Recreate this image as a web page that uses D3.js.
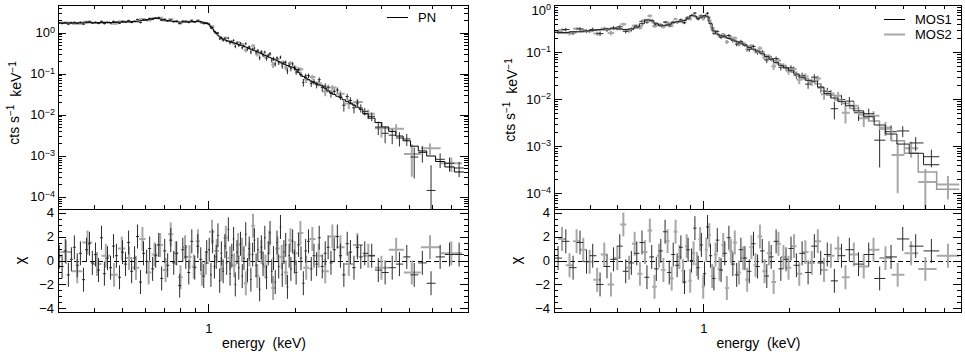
<!DOCTYPE html>
<html lang="en">
<head>
  <meta charset="UTF-8">
  <title>PN and MOS spectra with residuals</title>
  <script src="https://d3js.org/d3.v7.min.js"></script>
  <style>
    body { margin: 0; background: #fff; }
    svg { font-family: "Liberation Sans", Arial, Helvetica, sans-serif; }
    .tick text { font-size: 13px; fill: #000; }
    .tick line { stroke: #000; shape-rendering: crispEdges; }
    .box { shape-rendering: crispEdges; }
    .label { font-size: 14px; fill: #000; white-space: pre; }
  </style>
</head>
<body>
  <svg width="965" height="352"></svg>

  <script>
    // ---- PN (black) : bin centre (keV), model (cts/s/keV), chi, relative error
    const pnEnergy = [0.303,0.31,0.318,0.326,0.334,0.342,0.35,0.359,0.368,0.377,
      0.386,0.395,0.405,0.415,0.425,0.435,0.446,0.457,0.468,0.479,
      0.491,0.503,0.515,0.528,0.541,0.554,0.567,0.581,0.595,0.61,
      0.625,0.64,0.656,0.672,0.688,0.705,0.722,0.74,0.758,0.776,
      0.795,0.815,0.835,0.855,0.876,0.897,0.919,0.941,0.964,0.987,
      1.007,1.021,1.035,1.05,1.065,1.08,1.095,1.11,1.126,1.142,
      1.158,1.174,1.19,1.207,1.224,1.241,1.258,1.276,1.294,1.312,
      1.33,1.349,1.368,1.387,1.406,1.426,1.446,1.466,1.487,1.508,
      1.529,1.55,1.572,1.594,1.616,1.639,1.662,1.685,1.709,1.733,
      1.757,1.782,1.807,1.832,1.858,1.884,1.91,1.937,1.964,1.992,
      2.02,2.06,2.1,2.14,2.18,2.23,2.28,2.33,2.38,2.43,
      2.49,2.55,2.61,2.67,2.74,2.81,2.88,2.96,3.04,3.12,3.21,3.3,3.39,
      3.5,3.7,3.9,4.12,4.36,4.62,4.9,5.2,5.55,5.95,6.4,6.9,7.45];
    const pnModel = [1.70,1.70,1.69,1.70,1.71,1.70,1.71,1.72,1.71,1.72,
      1.73,1.72,1.73,1.74,1.74,1.75,1.74,1.75,1.76,1.77,
      1.78,1.79,1.80,1.82,1.84,1.86,1.89,1.93,1.98,2.04,
      2.10,2.16,2.20,2.17,2.10,2.02,1.95,1.89,1.85,1.82,
      1.80,1.80,1.81,1.82,1.84,1.85,1.84,1.82,1.77,1.65,
      1.55,1.38,1.22,1.08,0.96,0.86,0.79,0.73,0.69,0.66,
      0.635,0.615,0.60,0.58,0.56,0.545,0.525,0.51,0.49,0.475,
      0.46,0.445,0.43,0.41,0.39,0.375,0.36,0.35,0.335,0.32,
      0.305,0.29,0.28,0.27,0.255,0.245,0.235,0.225,0.215,0.205,
      0.196,0.187,0.178,0.17,0.163,0.157,0.151,0.146,0.142,0.138,
      0.125,0.105,0.092,0.085,0.078,0.071,0.065,0.06,0.056,0.053,
      0.05,0.044,0.038,0.034,0.031,0.028,0.026,0.023,0.021,0.019,0.017,0.0152,0.0135,
      0.0105,0.0082,0.0064,0.0050,0.0039,0.0030,0.0023,0.0017,0.0013,0.00098,0.00072,0.00053,0.0004];
    const pnChi = [0.3,-0.5,0.8,-1.2,0.1,1.1,-0.4,0.6,-1.6,0.9,
      1.4,-0.2,0.5,-0.8,1.9,-1.1,0.2,-0.6,1.2,0.4,
      -1.4,0.7,-0.3,1.5,-0.9,0.2,2.0,-1.8,0.6,-0.1,
      1.0,-0.7,0.4,1.3,-1.5,0.8,-0.4,1.7,-0.2,0.6,
      -2.1,0.9,0.3,-1.0,1.6,-0.6,1.2,0.1,-1.3,0.7,
      0.9,-1.2,1.6,-0.5,0.3,2.1,-1.7,0.6,-0.9,1.2,
      -0.2,2.6,-1.1,0.4,1.8,-2.0,0.7,-0.6,1.4,-1.3,
      0.2,2.2,-0.8,1.0,-1.6,0.5,1.7,-0.4,0.9,-2.4,
      1.1,-0.3,1.9,-1.4,0.6,2.3,-0.9,0.2,-1.8,1.5,
      -0.5,2.8,-1.2,0.7,1.3,-2.2,0.4,-0.7,1.6,-0.1,
      -1.0,1.3,0.2,-1.9,0.8,1.6,-0.7,0.4,-0.3,1.9,
      -0.5,0.6,1.1,-0.2,0.9,2.0,0.4,-1.2,1.4,0.7,-0.6,1.1,0.3,
      0.6,0.4,-0.8,-1.0,-0.6,-0.3,0.3,-1.2,-0.2,-1.9,0.3,0.5,0.5];
    const pnErr = [0.04,0.05,0.04,0.05,0.05,0.04,0.05,0.05,0.04,0.05,
      0.05,0.04,0.05,0.05,0.04,0.05,0.05,0.04,0.05,0.04,
      0.04,0.05,0.04,0.05,0.05,0.04,0.05,0.05,0.04,0.05,
      0.05,0.04,0.05,0.05,0.04,0.05,0.05,0.04,0.05,0.05,
      0.04,0.05,0.05,0.04,0.05,0.05,0.04,0.05,0.05,0.05,
      0.05,0.05,0.05,0.06,0.06,0.06,0.06,0.06,0.07,0.07,
      0.07,0.07,0.07,0.07,0.08,0.08,0.08,0.08,0.08,0.08,
      0.08,0.09,0.09,0.09,0.09,0.09,0.09,0.1,0.1,0.1,
      0.1,0.1,0.1,0.1,0.11,0.11,0.11,0.11,0.11,0.11,
      0.12,0.12,0.12,0.12,0.12,0.12,0.13,0.13,0.13,0.13,
      0.13,0.14,0.14,0.15,0.15,0.16,0.16,0.17,0.17,0.18,
      0.18,0.19,0.19,0.2,0.2,0.21,0.21,0.22,0.22,0.23,0.23,0.24,0.24,
      0.24,0.26,0.28,0.3,0.32,0.34,0.36,0.38,0.4,0.45,0.44,0.46,0.5];

    // ---- PN (grey points)
    const pnGreyEnergy = [0.32,0.35,0.38,0.41,0.44,0.47,0.5,0.53,0.56,0.59,0.62,0.65,0.68,0.71,0.74,0.77,0.8,0.83,0.86,0.89,0.92,0.95,0.98,
      1.03,1.07,1.11,1.15,1.19,1.23,1.27,1.31,1.35,1.39,1.43,1.48,1.53,1.58,1.63,1.68,1.74,1.8,1.86,1.93,2.0,
      2.09,2.19,2.3,2.42,2.55,2.7,2.88,3.08,3.3,3.6,4.0,4.5,5.1,5.9,7.0];
    const pnGreyModel = [1.70,1.71,1.71,1.73,1.74,1.75,1.78,1.82,1.88,1.97,2.07,2.19,2.14,2.01,1.90,1.84,1.80,1.81,1.83,1.85,1.83,1.80,1.70,
      1.25,0.92,0.73,0.65,0.60,0.555,0.515,0.477,0.445,0.405,0.372,0.34,0.303,0.276,0.25,0.227,0.202,0.18,0.161,0.147,0.13,
      0.094,0.079,0.063,0.054,0.044,0.032,0.026,0.02,0.0152,0.0094,0.0058,0.0034,0.0019,0.001,0.0005];
    const pnGreyChi = [0.7,-0.9,1.5,-0.3,0.4,-1.2,1.0,0.2,-0.6,1.8,-1.0,0.5,1.3,-0.8,2.2,0.6,-1.4,1.1,0.3,-0.5,1.6,-1.1,-0.2,
      2.4,0.8,-0.7,1.9,0.2,-0.4,1.3,0.9,-1.9,0.5,2.9,-1.3,0.7,-0.5,1.5,-2.3,1.0,0.3,-1.0,1.7,0.6,
      2.3,-0.6,1.8,0.4,-0.9,2.0,1.1,-0.3,1.3,0.4,-0.6,0.9,-1.0,1.1,0.6];
    const pnGreyErr = [0.05,0.05,0.05,0.05,0.05,0.05,0.05,0.05,0.05,0.05,0.05,0.05,0.05,0.05,0.05,0.05,0.05,0.05,0.05,0.05,0.05,0.05,0.05,
      0.06,0.07,0.07,0.08,0.08,0.08,0.09,0.09,0.09,0.1,0.1,0.1,0.11,0.11,0.11,0.12,0.12,0.12,0.13,0.13,0.14,
      0.15,0.16,0.17,0.18,0.19,0.21,0.22,0.24,0.26,0.3,0.33,0.37,0.42,0.46,0.5];

    // ---- MOS1 (black)
    const mos1Energy = [0.31,0.33,0.35,0.37,0.39,0.41,0.435,0.46,0.485,0.51,
      0.535,0.56,0.585,0.61,0.635,0.66,0.685,0.71,0.735,0.76,
      0.785,0.81,0.835,0.86,0.885,0.91,0.935,0.96,0.985,1.01,
      1.035,1.06,1.09,1.12,1.155,1.19,1.23,1.27,1.31,1.355,
      1.4,1.45,1.5,1.55,1.61,1.67,1.73,1.8,1.87,1.95,
      2.03,2.12,2.22,2.33,2.45,2.58,2.72,2.88,3.05,3.25,
      3.5,3.8,4.15,4.55,5.0,5.55,6.3];
    const mos1Model = [0.26,0.26,0.27,0.27,0.28,0.29,0.30,0.31,0.32,0.31,
      0.30,0.31,0.34,0.40,0.48,0.46,0.40,0.36,0.37,0.39,
      0.42,0.44,0.45,0.47,0.52,0.60,0.58,0.52,0.55,0.60,
      0.56,0.40,0.28,0.24,0.22,0.21,0.195,0.18,0.165,0.155,
      0.14,0.125,0.115,0.105,0.092,0.08,0.07,0.06,0.052,0.046,
      0.04,0.034,0.029,0.025,0.024,0.018,0.013,0.0105,0.0088,0.0072,
      0.0056,0.0042,0.0028,0.0018,0.0011,0.0007,0.0004];
    const mos1Chi = [0.2,1.6,-0.6,1.5,-0.1,0.4,-2.0,-0.5,0.1,1.2,
      -0.9,-0.2,0.6,1.5,-1.4,0.3,-0.7,0.8,2.4,-1.0,
      0.5,-0.4,1.1,-1.8,0.9,0.0,2.7,-0.6,1.3,-1.1,
      2.8,0.4,-1.5,1.7,-0.8,0.6,1.9,-0.3,-1.2,0.9,
      0.2,-0.9,1.4,-0.5,0.8,-1.3,0.3,1.6,-0.7,0.1,
      1.0,-0.4,0.6,-1.0,1.2,-0.2,0.5,-1.7,0.4,0.9,
      -0.3,0.5,-1.5,0.3,1.8,1.2,0.8];
    const mos1Err = [0.1,0.1,0.09,0.1,0.09,0.1,0.09,0.09,0.1,0.09,0.09,0.09,0.08,0.08,
      0.07,0.07,0.07,0.07,0.07,0.07,0.07,0.07,0.07,0.06,0.06,0.06,0.06,0.06,0.06,0.06,
      0.07,0.07,0.07,0.08,0.08,0.08,0.08,0.09,0.09,0.09,0.1,0.1,0.1,0.11,
      0.11,0.12,0.12,0.13,0.13,0.14,0.15,0.15,0.16,0.17,0.18,
      0.2,0.22,0.24,0.26,0.28,0.3,0.32,
      0.35,0.4,0.5,0.55,0.6];

    // ---- MOS2 (grey)
    const mos2Energy = [0.32,0.34,0.36,0.38,0.4,0.425,0.45,0.475,0.5,0.525,
      0.55,0.575,0.6,0.625,0.65,0.675,0.7,0.725,0.75,0.775,
      0.8,0.825,0.85,0.875,0.9,0.925,0.95,0.975,1.0,1.025,
      1.05,1.075,1.105,1.14,1.175,1.21,1.25,1.29,1.335,1.38,
      1.425,1.475,1.525,1.58,1.64,1.7,1.765,1.835,1.91,1.99,
      2.08,2.17,2.28,2.4,2.52,2.65,2.8,2.97,3.15,3.37,
      3.65,3.95,4.35,4.8,5.35,6.0,7.2];
    const mos2Model = [0.25,0.26,0.27,0.27,0.28,0.29,0.30,0.31,0.31,0.30,
      0.30,0.32,0.36,0.45,0.49,0.42,0.37,0.36,0.38,0.41,
      0.43,0.44,0.46,0.49,0.56,0.60,0.55,0.53,0.58,0.59,
      0.47,0.33,0.26,0.23,0.215,0.20,0.19,0.175,0.16,0.148,
      0.135,0.122,0.11,0.098,0.086,0.075,0.065,0.056,0.049,0.043,
      0.037,0.031,0.027,0.024,0.021,0.015,0.012,0.0095,0.008,0.0063,
      0.0046,0.0034,0.0023,0.0013,0.0007,0.00028,0.00012];
    const mos2Chi = [1.8,-0.4,1.6,0.9,-0.1,-1.6,0.5,-2.0,0.2,3.0,
      -0.6,1.4,-1.1,0.7,2.5,-2.2,0.4,-0.8,1.6,-1.5,
      2.4,0.3,-0.9,1.2,-1.7,0.6,-0.3,1.8,-2.2,0.9,
      2.1,-1.3,0.5,-0.7,1.3,-2.3,0.8,1.5,-1.0,0.2,
      -1.6,1.1,-0.4,2.0,-0.9,0.6,-1.8,1.4,0.3,-0.6,
      1.2,-1.1,0.7,-0.2,1.6,-0.8,0.4,1.0,-1.4,0.5,
      -0.5,0.9,0.2,-1.2,0.6,-0.7,0.4];
    const mos2Err = [0.1,0.1,0.1,0.09,0.1,0.09,0.1,0.09,0.09,0.1,0.09,0.09,0.08,0.08,0.08,
      0.07,0.07,0.07,0.07,0.07,0.07,0.07,0.07,0.07,0.06,0.06,0.06,0.06,0.06,0.06,0.07,
      0.07,0.08,0.08,0.08,0.08,0.09,0.09,0.09,0.1,0.1,0.1,0.11,0.11,0.12,
      0.12,0.13,0.13,0.14,0.15,0.15,0.16,0.17,0.18,0.19,0.2,
      0.22,0.24,0.26,0.28,0.3,0.32,
      0.36,0.42,0.48,0.55,0.65];

    // axis ticks
    const energyMajor = [1];
    const energyMinor = [0.3,0.4,0.5,0.6,0.7,0.8,0.9,2,3,4,5,6,7,8];
    const rateMajor = [1e-4,1e-3,1e-2,1e-1,1];
    const chiMajor = [-4,-2,0,2,4];

    const BLACK = "#2b2b2b", GREY = "#a8a8a8";

    const svg = d3.select("svg");

    // bin edges from neighbouring centres (geometric mid-points)
    function makeBins(E, model, chi, err) {
      const n = E.length;
      return E.map((e, i) => {
        const lo = i > 0 ? Math.sqrt(E[i - 1] * e) : e / Math.sqrt(E[1] / e);
        const hi = i < n - 1 ? Math.sqrt(e * E[i + 1]) : e * Math.sqrt(e / E[n - 2]);
        const m = model[i], c = chi[i] ?? 0, s = m * (err[i] ?? 0.1);
        return { e, lo, hi, m, c, s, v: Math.max(m + c * s, m * 0.05) };
      });
    }

    function supLabel(sel, d) {
      const t = sel.text("");
      t.append("tspan").text("10");
      t.append("tspan").attr("dy", "-0.5em").style("font-size", "9px")
        .text(String(Math.round(Math.log10(d))).replace("-", "\u2212"));
    }

    function drawPanel(p) {
      const x = d3.scaleLog().domain([0.3, 8]).range([p.x0, p.x1]);
      const y = d3.scaleLog().domain(p.yDomain).range([p.mid, p.top]);
      const yr = d3.scaleLinear().domain([-4.3, 4.3]).range([p.bot, p.mid]);
      const g = svg.append("g");

      g.append("clipPath").attr("id", p.id + "-top")
        .append("rect").attr("x", p.x0).attr("y", p.top).attr("width", p.x1 - p.x0).attr("height", p.mid - p.top);
      g.append("clipPath").attr("id", p.id + "-res")
        .append("rect").attr("x", p.x0).attr("y", p.mid).attr("width", p.x1 - p.x0).attr("height", p.bot - p.mid);

      const top = g.append("g").attr("clip-path", `url(#${p.id}-top)`);
      const res = g.append("g").attr("clip-path", `url(#${p.id}-res)`);
      const yMin = p.yDomain[0] * 0.5;

      // dashed zero line of the residuals
      res.append("line").attr("x1", p.x0).attr("x2", p.x1)
        .attr("y1", Math.round(yr(0)) + 0.5).attr("y2", Math.round(yr(0)) + 0.5)
        .attr("stroke", "#000").attr("stroke-dasharray", "5,3");

      p.series.forEach(s => {
        top.append("g").selectAll("path").data(s.bins).join("path")
          .attr("d", d => `M${x(d.lo)},${y(d.v)}H${x(d.hi)}M${x(d.e)},${y(d.v + d.s)}V${y(Math.max(d.v - d.s, yMin))}`)
          .attr("fill", "none").attr("stroke", s.color).attr("stroke-width", s.width);
        res.append("g").selectAll("path").data(s.bins).join("path")
          .attr("d", d => `M${x(d.lo)},${yr(d.c)}H${x(d.hi)}M${x(d.e)},${yr(d.c + 1)}V${yr(d.c - 1)}`)
          .attr("fill", "none").attr("stroke", s.color).attr("stroke-width", s.width);
      });

      // model step lines
      const line = d3.line().x(d => x(d[0])).y(d => y(d[1]));
      p.series.filter(s => s.model).forEach(s => {
        const pts = s.bins.flatMap(d => [[d.lo, d.m], [d.hi, d.m]]);
        top.append("path").attr("d", line(pts))
          .attr("fill", "none").attr("stroke", s.modelColor).attr("stroke-width", s.modelWidth);
      });

      // boxes
      [[p.top, p.mid], [p.mid, p.bot]].forEach(([a, b]) => {
        g.append("rect").attr("class", "box").attr("x", p.x0).attr("y", a).attr("width", p.x1 - p.x0).attr("height", b - a)
          .attr("fill", "none").attr("stroke", "#000");
      });

      const decadeMinor = [];
      for (let k = -5; k <= 1; k++) for (let m = 2; m <= 9; m++) {
        const v = m * Math.pow(10, k);
        if (v > p.yDomain[0] && v < p.yDomain[1]) decadeMinor.push(v);
      }
      const chiMinor = d3.range(-4, 4.01, 0.5).filter(v => !chiMajor.includes(v));

      const ax = (axis, tx, ty) => g.append("g").attr("transform", `translate(${tx},${ty})`).call(axis)
        .call(a => a.select(".domain").remove());

      // top panel
      ax(d3.axisLeft(y).tickValues(rateMajor).tickSize(-8).tickPadding(3), p.x0, 0)
        .selectAll(".tick text").each(function(d) {
          supLabel(d3.select(this), d);
          // keep a label at the very top edge inside the picture
          if (y(d) < 10) d3.select(this).attr("y", 10 - y(d));
        });
      ax(d3.axisLeft(y).tickValues(decadeMinor).tickSize(-4).tickFormat(""), p.x0, 0);
      ax(d3.axisRight(y).tickValues(rateMajor).tickSize(-8).tickFormat(""), p.x1, 0);
      ax(d3.axisRight(y).tickValues(decadeMinor).tickSize(-4).tickFormat(""), p.x1, 0);
      ax(d3.axisTop(x).tickValues(energyMajor).tickSize(-8).tickFormat(""), 0, p.top);
      ax(d3.axisTop(x).tickValues(energyMinor).tickSize(-4).tickFormat(""), 0, p.top);
      ax(d3.axisBottom(x).tickValues(energyMajor).tickSize(-8).tickFormat(""), 0, p.mid);
      ax(d3.axisBottom(x).tickValues(energyMinor).tickSize(-4).tickFormat(""), 0, p.mid);

      // residual panel
      ax(d3.axisLeft(yr).tickValues(chiMajor).tickSize(-8).tickPadding(4)
        .tickFormat(d => String(d).replace("-", "\u2212")), p.x0, 0);
      ax(d3.axisLeft(yr).tickValues(chiMinor).tickSize(-4).tickFormat(""), p.x0, 0);
      ax(d3.axisRight(yr).tickValues(chiMajor).tickSize(-8).tickFormat(""), p.x1, 0);
      ax(d3.axisRight(yr).tickValues(chiMinor).tickSize(-4).tickFormat(""), p.x1, 0);
      ax(d3.axisBottom(x).tickValues(energyMajor).tickSize(-8).tickPadding(12).tickFormat(d3.format("d")), 0, p.bot);
      ax(d3.axisBottom(x).tickValues(energyMinor).tickSize(-4).tickFormat(""), 0, p.bot);

      // titles
      const yt = g.append("text").attr("class", "label").attr("text-anchor", "middle")
        .attr("transform", `translate(${p.x0 - 39},${p.yTitleY}) rotate(-90)`);
      yt.append("tspan").text("cts s");
      yt.append("tspan").attr("dy", "-0.5em").style("font-size", "10px").text("\u22121");
      yt.append("tspan").attr("dy", "0.5em").text("  keV");
      yt.append("tspan").attr("dy", "-0.5em").style("font-size", "10px").text("\u22121");

      g.append("text").attr("class", "label").attr("text-anchor", "middle")
        .attr("transform", `translate(${p.x0 - 38},${yr(0)}) rotate(-90)`)
        .attr("dy", "0.35em").style("font-size", "15px").text("\u03c7");

      g.append("text").attr("class", "label").attr("text-anchor", "middle")
        .attr("x", (p.x0 + p.x1) / 2 + 1).attr("y", 348).text("energy  (keV)");

      // legend
      p.legend.forEach((l, i) => {
        const ly = p.legendY + i * 15 + 0.5;
        g.append("line").attr("x1", p.legendX).attr("x2", p.legendX + 21)
          .attr("y1", ly).attr("y2", ly).attr("stroke", l.color).attr("stroke-width", l.width);
        g.append("text").attr("class", "label").style("font-size", "13px")
          .attr("x", p.legendX + 31).attr("y", ly).attr("dy", "0.36em").text(l.name);
      });
    }

    drawPanel({
      id: "pn", x0: 58, x1: 468, top: 5, mid: 209, bot: 312,
      yDomain: [Math.pow(10, -4.3), Math.pow(10, 0.67)], yTitleY: 103,
      legendX: 387, legendY: 17,
      legend: [{ name: "PN", color: "#000", width: 1 }],
      series: [
        { bins: makeBins(pnGreyEnergy, pnGreyModel, pnGreyChi, pnGreyErr), color: GREY, width: 2 },
        { bins: makeBins(pnEnergy, pnModel, pnChi, pnErr), color: BLACK, width: 1,
          model: true, modelColor: "#000", modelWidth: 1 }
      ]
    });

    drawPanel({
      id: "mos", x0: 554, x1: 961, top: 5, mid: 209, bot: 312,
      yDomain: [Math.pow(10, -4.34), 1], yTitleY: 100,
      legendX: 884, legendY: 19,
      legend: [{ name: "MOS1", color: "#000", width: 1 }, { name: "MOS2", color: GREY, width: 2 }],
      series: [
        { bins: makeBins(mos2Energy, mos2Model, mos2Chi, mos2Err), color: GREY, width: 2,
          model: true, modelColor: "#9a9a9a", modelWidth: 1.5 },
        { bins: makeBins(mos1Energy, mos1Model, mos1Chi, mos1Err), color: BLACK, width: 1,
          model: true, modelColor: "#222", modelWidth: 1 }
      ]
    });
  </script>
</body>
</html>
